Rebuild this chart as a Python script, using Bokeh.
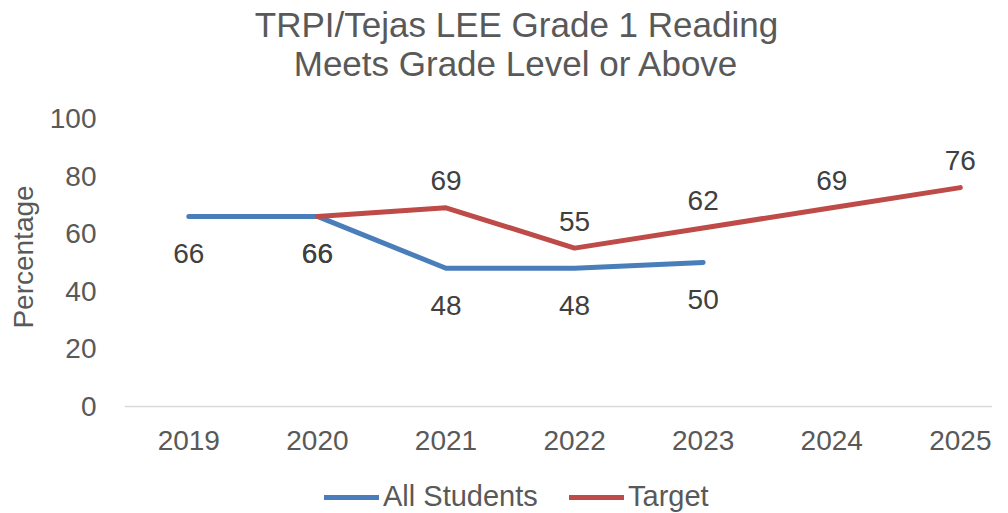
from bokeh.plotting import figure
from bokeh.models import (Range1d, FixedTicker, Label, Legend, LegendItem,
                          ColumnDataSource)
from bokeh.core.properties import value
from bokeh.embed import file_html
from bokeh.resources import INLINE

years = [2019, 2020, 2021, 2022, 2023, 2024, 2025]
all_years = [2019, 2020, 2021, 2022, 2023]
all_students = [66, 66, 48, 48, 50]
target_years = [2020, 2021, 2022, 2023, 2024, 2025]
target = [66, 69, 55, 62, 69, 76]
y_ticks = [0, 20, 40, 60, 80, 100]
title_lines = ["TRPI/Tejas LEE Grade 1 Reading", "Meets Grade Level or Above"]

FONT = "Liberation Sans"
GRAY = "#595959"
LABEL = "#404040"
BLUE = "#4A7EBB"
RED = "#BE4B48"

# layout (pixels)
W, H = 992, 513
LEFT = 124
Y0_PX, Y100_PX = 406, 118          # where 0 and 100 sit, from the top
PX_PER_Y = (Y0_PX - Y100_PX) / 100.0
X_START, X_END = 2018.5, 2025.25
PX_PER_X = (W - LEFT) / (X_END - X_START)

y_start = -(H - Y0_PX) / PX_PER_Y
y_end = Y0_PX / PX_PER_Y

p = figure(width=W, height=H, output_backend="svg", toolbar_location=None,
           x_range=Range1d(X_START, X_END), y_range=Range1d(y_start, y_end),
           min_border_left=LEFT, min_border_right=0, min_border_top=0,
           min_border_bottom=0)
p.outline_line_color = None
p.grid.visible = False
p.title.visible = False
p.background_fill_color = "white"
p.border_fill_color = "white"

# x axis drawn at y = 0
xa = p.xaxis[0]
xa.fixed_location = 0
xa.ticker = FixedTicker(ticks=years)
xa.axis_line_color = "#D9D9D9"
xa.axis_line_width = 1.5
xa.major_tick_line_color = None
xa.minor_tick_line_color = None
xa.major_label_text_font = FONT
xa.major_label_text_font_size = "28px"
xa.major_label_text_color = GRAY
xa.major_label_standoff = 18

ya = p.yaxis[0]
ya.ticker = FixedTicker(ticks=y_ticks)
ya.axis_line_color = None
ya.major_tick_line_color = None
ya.minor_tick_line_color = None
ya.major_label_text_font = FONT
ya.major_label_text_font_size = "28px"
ya.major_label_text_color = GRAY
ya.major_label_standoff = 22
ya.axis_label = "Percentage"
ya.axis_label_text_font = FONT
ya.axis_label_text_font_size = "28px"
ya.axis_label_text_font_style = "normal"
ya.axis_label_text_color = GRAY
ya.axis_label_standoff = 8

# title, two centred lines
title_cx = X_START + (517 - 125) / PX_PER_X
for line, top_px in zip(title_lines, [24, 63]):
    p.add_layout(Label(x=title_cx, y=y_end - top_px / PX_PER_Y, text=line,
                       text_font=FONT, text_font_size="35px",
                       text_color=GRAY, text_align="center",
                       text_baseline="middle"))

src_a = ColumnDataSource(dict(x=all_years, y=all_students,
                              t=[str(v) for v in all_students]))
# target labels above, except where coinciding with All Students value
a_map = dict(zip(all_years, all_students))
t_off = [37 if a_map.get(x) == v else -27 for x, v in zip(target_years, target)]
src_t = ColumnDataSource(dict(x=target_years, y=target,
                              t=[str(v) for v in target], off=t_off))

r_a = p.line("x", "y", source=src_a, line_color=BLUE, line_width=5,
             line_cap="round", line_join="round")
r_t = p.line("x", "y", source=src_t, line_color=RED, line_width=5,
             line_cap="round", line_join="round")

p.text("x", "y", text="t", source=src_a, text_font=value(FONT),
       text_font_size="28px", text_color=LABEL, text_align="center",
       text_baseline="middle", y_offset=37)
p.text("x", "y", text="t", source=src_t, text_font=value(FONT),
       text_font_size="28px", text_color=LABEL, text_align="center",
       text_baseline="middle", y_offset="off")

legend = Legend(items=[LegendItem(label="All Students", renderers=[r_a]),
                       LegendItem(label="Target", renderers=[r_t])],
                orientation="horizontal", location=(200, 0),
                label_text_font=FONT, label_text_font_size="29px",
                label_text_color=GRAY, glyph_width=55, glyph_height=28,
                label_standoff=4, spacing=15, label_width=171,
                padding=0, margin=0,
                border_line_color=None, background_fill_alpha=0)
p.add_layout(legend)

open("out.html", "w").write(file_html(p, INLINE))
